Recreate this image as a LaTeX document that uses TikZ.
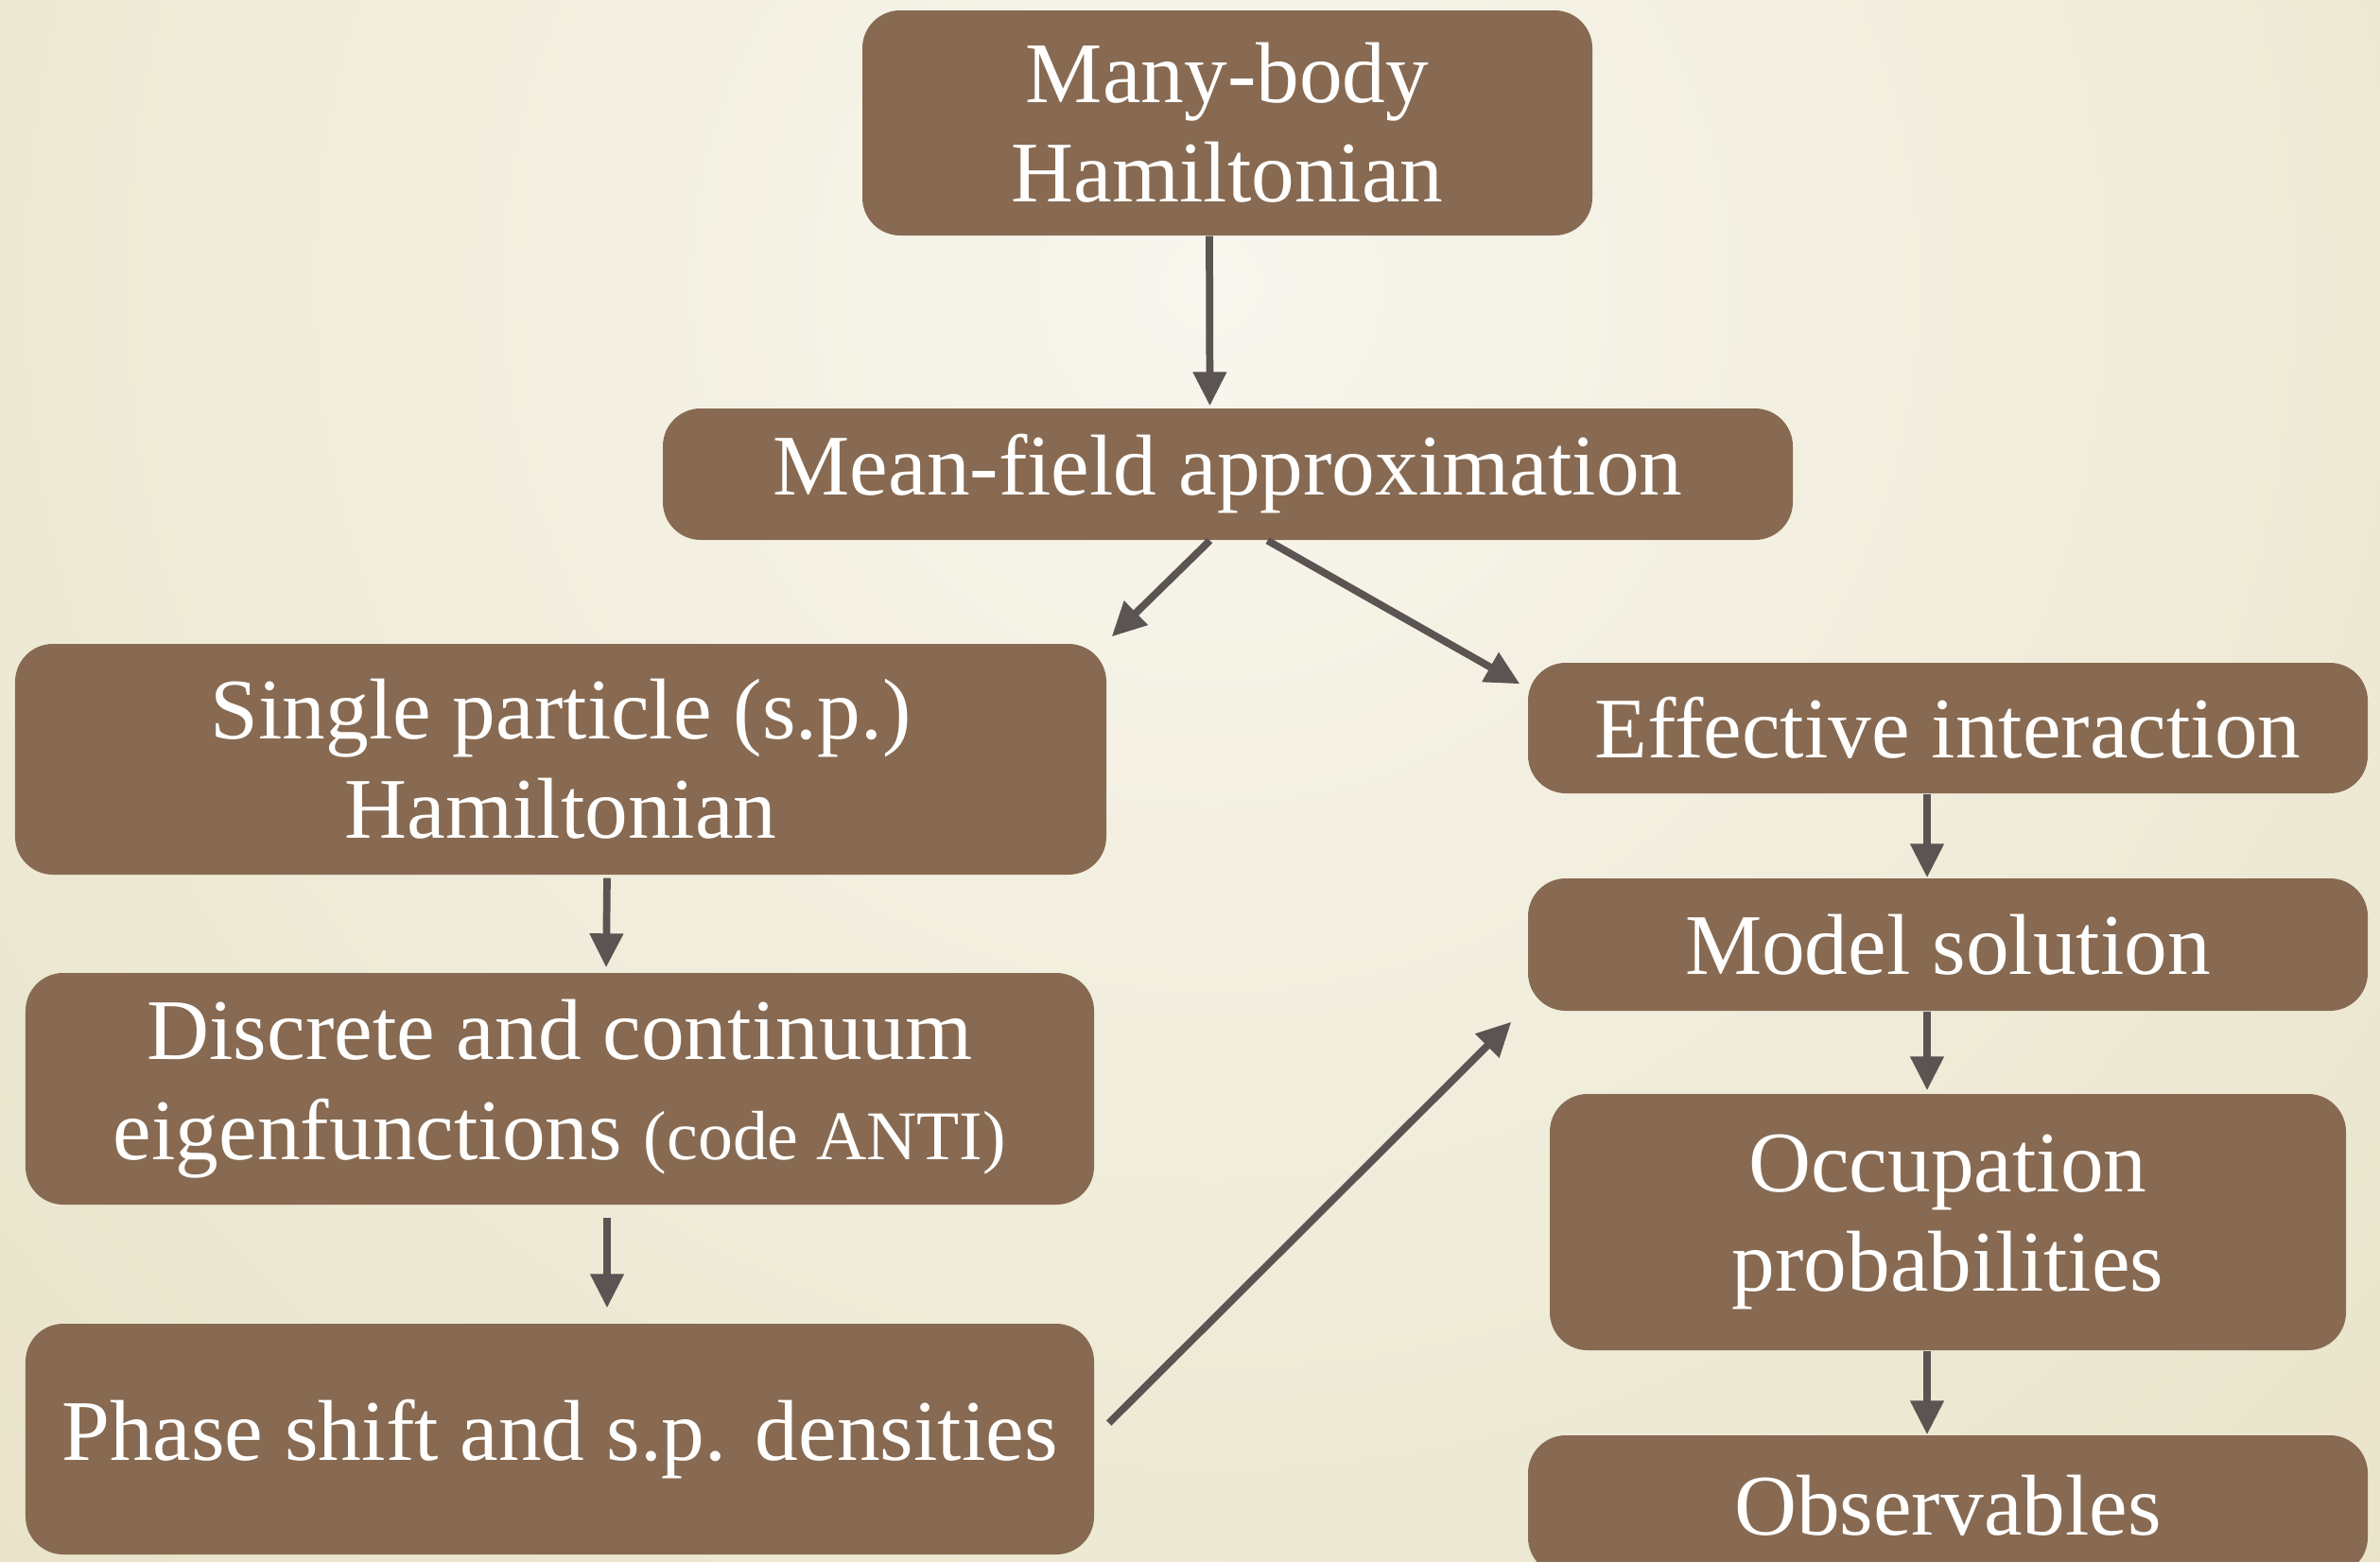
\documentclass[tikz,border=0pt]{standalone}
\usepackage{fontspec}
\setmainfont{Liberation Serif}
\usepackage{tikz}
\usetikzlibrary{arrows.meta}
\usetikzlibrary{calc}

\definecolor{boxbrown}{RGB}{135,106,81}
\definecolor{arrowgray}{RGB}{91,84,82}
\definecolor{bgcenter}{RGB}{248,246,238}
\definecolor{bgedge}{RGB}{228,222,190}

\tikzset{
	block/.style={rectangle, rounded corners=4mm, fill=boxbrown, text=white,
		align=center, inner sep=0pt, font=\fontsize{26}{30}\selectfont},
	flow/.style={draw=arrowgray, line width=2.2pt,
		-{Triangle[length=3.6mm,width=3.4mm]}},
}

\begin{document}
\begin{tikzpicture}
	% page frame
	\coordinate (TL) at (0,0);
	\coordinate (BR) at (25.17,-16.51);
	\useasboundingbox (TL) rectangle (BR);
	\clip (TL) rectangle (BR);
	\fill[bgedge] (TL) rectangle (BR);
	\shade[inner color=bgcenter, outer color=bgedge] (12.8,-3) circle (24);
	
	% top chain
	\node[block, minimum width=7.72cm, minimum height=2.38cm] (hmb) at (12.98,-1.30)
		{Many-body\\Hamiltonian};
	\node[block, minimum width=11.95cm, minimum height=1.39cm] (mf) at (12.985,-5.015)
		{Mean-field approximation};
	
	% left column
	\node[block, minimum width=11.54cm, minimum height=2.44cm] (sph) at (5.93,-8.03)
		{Single particle (s.p.)\\Hamiltonian};
	\node[block, minimum width=11.30cm, minimum height=2.45cm] (eig) at (5.92,-11.515)
		{Discrete and continuum\\eigenfunctions {\fontsize{21}{30}\selectfont(code ANTI)}};
	\node[block, minimum width=11.30cm, minimum height=2.44cm] (phs) at (5.92,-15.22)
		{Phase shift and s.p. densities};
	
	% right column
	\node[block, minimum width=8.88cm, minimum height=1.38cm] (eff) at (20.60,-7.70)
		{Effective interaction};
	\node[block, minimum width=8.88cm, minimum height=1.40cm] (mod) at (20.60,-9.99)
		{Model solution};
	\node[block, minimum width=8.42cm, minimum height=2.71cm] (occ) at (20.60,-12.925)
		{Occupation\\probabilities};
	\node[block, minimum width=8.88cm, minimum height=1.48cm] (obs) at (20.60,-15.92)
		{Observables};
	
	% arrows
	\draw[flow] ([xshift=-0.19cm]hmb.south) -- ([xshift=-0.19cm,yshift=0.02cm]mf.north);
	\draw[flow] ([xshift=-0.19cm]mf.south) -- ($(sph.north east)+(0.05,0.07)$);
	\draw[flow] ([xshift=0.42cm]mf.south) -- ($(eff.north west)+(-0.08,-0.23)$);
	\draw[flow] ([xshift=0.49cm,yshift=-0.03cm]sph.south) -- ([xshift=0.49cm,yshift=0.05cm]eig.north);
	\draw[flow] ([xshift=0.50cm,yshift=-0.13cm]eig.south) -- ([xshift=0.50cm,yshift=0.16cm]phs.north);
	\draw[flow] ($(phs.east)+(0.15,0.17)$) -- ($(mod.south west)+(-0.17,-0.11)$);
	\draw[flow] ([xshift=-0.22cm]eff.south) -- ([xshift=-0.22cm]mod.north);
	\draw[flow] ([xshift=-0.22cm]mod.south) -- ([xshift=-0.22cm,yshift=0.03cm]occ.north);
	\draw[flow] ([xshift=-0.22cm]occ.south) -- ([xshift=-0.22cm]obs.north);
\end{tikzpicture}
\end{document}
